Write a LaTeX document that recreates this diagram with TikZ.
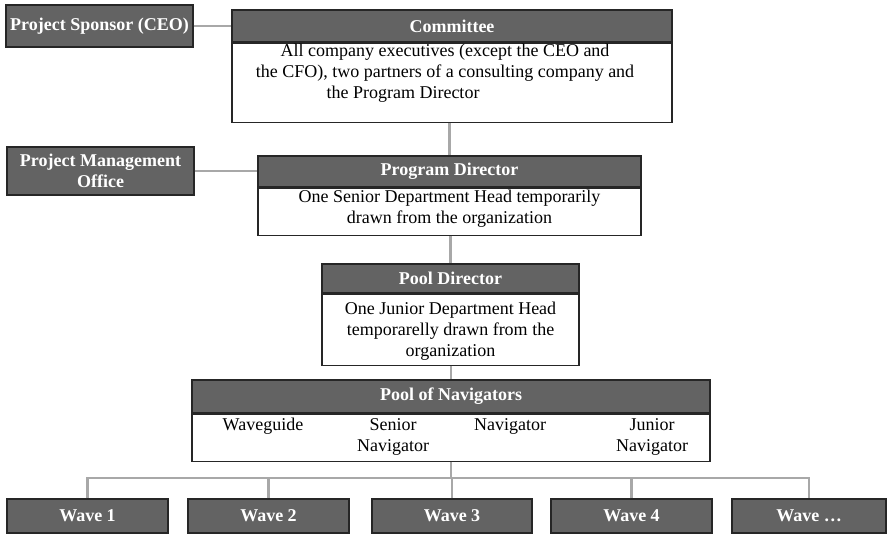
\documentclass[tikz,border=0pt]{standalone}
\usepackage{fontspec}
\setmainfont{Liberation Serif}
\usetikzlibrary{positioning}
\definecolor{headgray}{RGB}{99,99,99}
\definecolor{edgegray}{RGB}{38,38,38}
\definecolor{linkgray}{RGB}{168,168,168}

\begin{document}
\begin{tikzpicture}[
                x=1pt, y=-1pt,
                font=\fontsize{18}{21}\selectfont,
                head/.style={draw=edgegray, line width=1.2pt, fill=headgray, text=white,
                    font=\fontsize{18}{21}\selectfont\bfseries, inner sep=0pt, align=center},
                bodybox/.style={draw=edgegray, line width=1.2pt, fill=white, inner sep=0pt, anchor=north},
                bodytext/.style={align=center, inner sep=0pt, anchor=north},
                link/.style={linkgray, line width=2.5pt}
            ]
            \useasboundingbox (0,0) rectangle (890,535);

            % 顶层：发起人与委员会
            \node[head, minimum width=187pt, minimum height=42pt] (sponsor) at (99.5,26) {Project Sponsor (CEO)};
            \node[head, minimum width=440pt, minimum height=32pt] (comHead) at (452,26) {Committee};
            \node[bodybox, minimum width=440pt, minimum height=79pt] (comBody) at (comHead.south) {};
            \node[bodytext] (comText) at (445,44) {All company executives (except the CEO and\\
                the CFO), two partners of a consulting company and\\
                the Program Director\hspace*{84pt}};

            % 项目总监与 PMO
            \node[head, minimum width=187pt, minimum height=48pt] (pmo) at (100.5,171) {Project Management\\Office};
            \node[head, minimum width=383pt, minimum height=31pt] (pdHead) at (449.5,171.5) {Program Director};
            \node[bodybox, minimum width=383pt, minimum height=47pt] (pdBody) at (pdHead.south) {};
            \node[bodytext] (pdText) at (449.5,190) {One Senior Department Head temporarily\\drawn from the organization};

            % 池总监
            \node[head, minimum width=257pt, minimum height=29pt] (poolHead) at (450.5,278.5) {Pool Director};
            \node[bodybox, minimum width=257pt, minimum height=71pt] (poolBody) at (poolHead.south) {};
            \node[bodytext] (poolText) at (450.5,302) {One Junior Department Head\\temporarelly drawn from the\\organization};

            % 导航员池
            \node[head, minimum width=518pt, minimum height=33pt] (navHead) at (451,396.5) {Pool of Navigators};
            \node[bodybox, minimum width=518pt, minimum height=47pt] (navBody) at (navHead.south) {};
            \node[bodytext] (colGuide) at (263,418) {Waveguide};
            \node[bodytext] (colSenior) at (393,418) {Senior\\Navigator};
            \node[bodytext] (colNav) at (510,418) {Navigator};
            \node[bodytext] (colJunior) at (652,418) {Junior\\Navigator};

            % 各波次
            \node[head, minimum width=161pt, minimum height=34pt] (w1) at (87.5,516) {Wave 1};
            \node[head, minimum width=161pt, minimum height=34pt] (w2) at (268.5,516) {Wave 2};
            \node[head, minimum width=160pt, minimum height=34pt] (w3) at (452,516) {Wave 3};
            \node[head, minimum width=161pt, minimum height=34pt] (w4) at (631.5,516) {Wave 4};
            \node[head, minimum width=154pt, minimum height=34pt] (w5) at (809,516) {Wave \dots};

            % 连线
            \draw[link] (sponsor.east) -- (comHead.west);
            \draw[link] (pmo.east) -- (pmo.east -| pdHead.west);
            \draw[link] (pdHead.north |- comBody.south) -- (pdHead.north);
            \draw[link] (poolHead.north |- pdBody.south) -- (poolHead.north);
            \draw[link] (navHead.north |- poolBody.south) -- (navHead.north);
            \coordinate (bus) at (451,478);
            \draw[link] (navBody.south) -- (navBody.south |- bus);
            \draw[link] (w1.north) -- (w1.north |- bus) -- (w5.north |- bus) -- (w5.north);
            \draw[link] (w2.north) -- (w2.north |- bus);
            \draw[link] (w3.north) -- (w3.north |- bus);
            \draw[link] (w4.north) -- (w4.north |- bus);
        \end{tikzpicture}
\end{document}
